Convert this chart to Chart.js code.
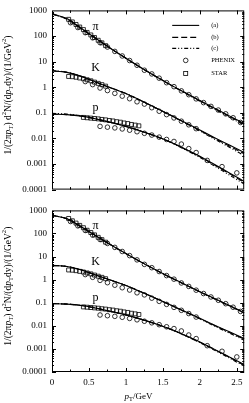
<!DOCTYPE html>
<html lang="en">
<head>
<meta charset="UTF-8">
<title>Identified hadron spectra</title>
<script src="https://cdn.jsdelivr.net/npm/chart.js@4.4.0/dist/chart.umd.min.js"></script>
<style>
  body { margin: 0; background: #fff; width: 249px; height: 403px; overflow: hidden; position: relative; }
  .box { position: absolute; left: 0; width: 249px; }
  #top { top: 0; height: 200px; }
  #bot { top: 200px; height: 203px; }
</style>
</head>
<body>
<div class="box" id="top"><canvas id="c1"></canvas></div>
<div class="box" id="bot"><canvas id="c2"></canvas></div>
<script>
// --- axis ticks
const xTicks = [0, 0.5, 1, 1.5, 2, 2.5];
const yTicks = [0.0001, 0.001, 0.01, 0.1, 1, 10, 100, 1000];

// --- model curves, sampled in pT (GeV)
const curveX = [0, 0.2, 0.4, 0.6, 0.8, 1.0, 1.2, 1.4, 1.6, 1.8, 2.0, 2.2, 2.4, 2.6];

// top panel
const piA1 = [741, 479, 195, 77.6, 31.6, 13.5, 5.89, 2.69, 1.26, 0.617, 0.302, 0.151, 0.0759, 0.038];
const piB1 = [729, 468, 191, 77.6, 31.6, 13.5, 5.89, 2.69, 1.26, 0.603, 0.295, 0.145, 0.0724, 0.0355];
const piC1 = [708, 457, 191, 77.6, 31.6, 13.5, 5.89, 2.63, 1.23, 0.589, 0.282, 0.138, 0.0676, 0.0331];
const kA1 = [4.37, 3.80, 2.63, 1.55, 0.933, 0.562, 0.302, 0.158, 0.0813, 0.0417, 0.0214, 0.0107, 0.0055, 0.00282];
const kB1 = [4.37, 3.80, 2.63, 1.55, 0.933, 0.562, 0.302, 0.158, 0.0813, 0.0407, 0.0204, 0.0100, 0.0050, 0.00251];
const kC1 = [4.47, 3.85, 2.63, 1.55, 0.933, 0.562, 0.302, 0.155, 0.0794, 0.0398, 0.0195, 0.0093, 0.0045, 0.00214];
const pA1 = [0.0891, 0.0851, 0.0741, 0.0575, 0.0417, 0.0295, 0.0195, 0.0123, 0.00724, 0.00389, 0.00200, 0.000955, 0.000447, 0.000209];
const pB1 = [0.0891, 0.0851, 0.0741, 0.0575, 0.0417, 0.0295, 0.0195, 0.0123, 0.00724, 0.00380, 0.00193, 0.00091, 0.00042, 0.000192];
const pC1 = [0.0955, 0.0891, 0.0759, 0.0575, 0.0417, 0.0295, 0.0195, 0.0121, 0.0071, 0.00365, 0.00180, 0.00083, 0.00037, 0.000165];

// bottom panel
const piA2 = [617, 440, 190, 77.0, 31.6, 13.5, 5.89, 2.69, 1.26, 0.617, 0.302, 0.151, 0.0759, 0.0372];
const piB2 = [617, 437, 189, 77.0, 31.6, 13.5, 5.89, 2.69, 1.25, 0.610, 0.298, 0.148, 0.0741, 0.0363];
const piC2 = [610, 432, 188, 77.0, 31.6, 13.5, 5.89, 2.66, 1.24, 0.600, 0.292, 0.144, 0.0716, 0.0350];
const kA2 = [4.17, 3.72, 2.60, 1.55, 0.933, 0.562, 0.302, 0.158, 0.0813, 0.0417, 0.0214, 0.0107, 0.0055, 0.00282];
const kB2 = [4.17, 3.72, 2.60, 1.55, 0.933, 0.562, 0.302, 0.158, 0.0805, 0.0410, 0.0208, 0.0103, 0.0052, 0.00263];
const kC2 = [4.20, 3.74, 2.60, 1.55, 0.933, 0.562, 0.302, 0.156, 0.0794, 0.0402, 0.0200, 0.0097, 0.0048, 0.00240];
const pA2 = [0.0912, 0.0870, 0.0755, 0.0580, 0.0417, 0.0295, 0.0195, 0.0123, 0.00724, 0.00389, 0.00200, 0.000955, 0.000447, 0.000209];
const pB2 = [0.0912, 0.0870, 0.0755, 0.0580, 0.0417, 0.0295, 0.0195, 0.0123, 0.00720, 0.00383, 0.00195, 0.00093, 0.00043, 0.000198];
const pC2 = [0.0933, 0.0880, 0.0759, 0.0580, 0.0417, 0.0295, 0.0195, 0.0122, 0.0071, 0.00372, 0.00187, 0.00087, 0.00040, 0.000180];

// --- PHENIX data (circles)
const piPhxX = [0.25, 0.35, 0.45, 0.55, 0.65, 0.75, 0.85, 0.95, 1.05, 1.15, 1.25, 1.35, 1.45, 1.55, 1.65, 1.75, 1.85, 1.95, 2.05, 2.15, 2.25, 2.35, 2.45, 2.55];
const piPhxY = [331, 214, 135, 85, 55, 37, 25, 16.6, 11.0, 7.2, 4.6, 3.3, 2.25, 1.5, 1.05, 0.72, 0.51, 0.35, 0.25, 0.178, 0.128, 0.091, 0.064, 0.042];
const kPhxX = [0.45, 0.55, 0.65, 0.75, 0.85, 0.95, 1.05, 1.15, 1.25, 1.35, 1.45, 1.55, 1.65, 1.75, 1.85, 1.95];
const kPhxY = [1.66, 1.26, 0.93, 0.74, 0.575, 0.447, 0.355, 0.269, 0.219, 0.158, 0.115, 0.085, 0.063, 0.047, 0.034, 0.024];
const pPhxX = [0.65, 0.75, 0.85, 0.95, 1.05, 1.15, 1.25, 1.35, 1.45, 1.55, 1.65, 1.75, 1.85, 1.95, 2.1, 2.3, 2.5];
const pPhxY = [0.0295, 0.0275, 0.0257, 0.0234, 0.0209, 0.0182, 0.0158, 0.0135, 0.0112, 0.0091, 0.0076, 0.0060, 0.0040, 0.0028, 0.00138, 0.00079, 0.00045];

// --- STAR data (squares)
const piStarX = [0.225, 0.275, 0.325, 0.375, 0.425, 0.475, 0.525, 0.575, 0.625, 0.675, 0.725];
const piStarY = [447, 355, 282, 224, 178, 138, 110, 87, 68, 54, 42];
const kStarX = [0.225, 0.275, 0.325, 0.375, 0.425, 0.475, 0.525, 0.575, 0.625, 0.675, 0.725];
const kStarY = [2.63, 2.57, 2.45, 2.29, 2.14, 1.95, 1.78, 1.58, 1.41, 1.26, 1.10];
const pStarX = [0.425, 0.475, 0.525, 0.575, 0.625, 0.675, 0.725, 0.775, 0.825, 0.875, 0.925, 0.975, 1.025, 1.075, 1.125, 1.175];
const pStarY = [0.066, 0.064, 0.062, 0.060, 0.058, 0.055, 0.053, 0.050, 0.048, 0.045, 0.043, 0.040, 0.038, 0.035, 0.033, 0.031];

// species tags, placed in data coordinates
const tagText = ['\u03c0', 'K', 'p'];
const tagX = [0.59, 0.59, 0.59];
const tagY = [220, 5.8, 0.16];

const legendText = ['(a)', '(b)', '(c)', 'PHENIX', 'STAR'];

const SERIF = '"Liberation Serif", "DejaVu Serif", serif';
const dashB = [6, 3];
const dashC = [4, 2, 1, 2, 1, 2];

function pairs(xs, ys) {
  return xs.map((x, i) => ({ x: x, y: ys[i] }));
}

function curve(ys, dash) {
  return {
    data: pairs(curveX, ys), showLine: true, borderColor: '#000', borderWidth: 1.1,
    borderDash: dash, pointRadius: 0, cubicInterpolationMode: 'monotone', fill: false
  };
}

function marks(xs, ys, style) {
  return {
    data: pairs(xs, ys), showLine: false, pointStyle: style,
    pointRadius: style === 'rect' ? 2.8 : 2.3, borderWidth: 0.8,
    pointBorderColor: '#000', pointBackgroundColor: 'rgba(0,0,0,0)'
  };
}

// draw a run of text with italic / sub / sup pieces, centred on (0,0)
function richText(ctx, parts, size) {
  const w = parts.map(p => {
    const fs = p.sub || p.sup ? size * 0.7 : size;
    ctx.font = (p.it ? 'italic ' : '') + fs + 'px ' + SERIF;
    return ctx.measureText(p.t).width;
  });
  let x = -w.reduce((a, b) => a + b, 0) / 2;
  parts.forEach((p, i) => {
    const fs = p.sub || p.sup ? size * 0.7 : size;
    ctx.font = (p.it ? 'italic ' : '') + fs + 'px ' + SERIF;
    const dy = p.sub ? size * 0.3 : p.sup ? -size * 0.4 : 0;
    ctx.fillText(p.t, x, dy);
    x += w[i];
  });
}

const yTitle = [
  { t: '1/(2\u03c0' }, { t: 'p', it: true }, { t: 'T', sub: true }, { t: ') d' }, { t: '2', sup: true },
  { t: 'N/(d' }, { t: 'p', it: true }, { t: 'T', sub: true }, { t: 'dy)/(1/GeV' }, { t: '2', sup: true }, { t: ')' }
];
const xTitle = [{ t: 'p', it: true }, { t: 'T', sub: true }, { t: '/GeV' }];

const deco = {
  id: 'deco',
  afterDatasetsDraw(chart, args, opts) {
    const { ctx, chartArea: a, scales: { x, y } } = chart;
    ctx.save();
    ctx.strokeStyle = '#000';
    ctx.fillStyle = '#000';
    ctx.lineWidth = 1;
    ctx.setLineDash([]);

    // frame
    ctx.strokeRect(a.left + 0.5, a.top + 0.5, a.width - 1, a.height - 1);

    // inward ticks on all four sides
    ctx.beginPath();
    for (let v = 0.25; v < 2.6; v += 0.25) {
      const px = Math.round(x.getPixelForValue(v)) + 0.5;
      const len = Math.abs(v * 2 - Math.round(v * 2)) < 1e-6 ? 4 : 2.5;
      ctx.moveTo(px, a.bottom); ctx.lineTo(px, a.bottom - len);
      ctx.moveTo(px, a.top); ctx.lineTo(px, a.top + len);
    }
    for (let e = -4; e < 3; e++) {
      for (let m = 1; m < 10; m++) {
        const py = Math.round(y.getPixelForValue(m * Math.pow(10, e))) + 0.5;
        const len = m === 1 ? 4 : 2;
        ctx.moveTo(a.left, py); ctx.lineTo(a.left + len, py);
        ctx.moveTo(a.right, py); ctx.lineTo(a.right - len, py);
      }
    }
    ctx.stroke();

    // species tags
    ctx.font = '12px ' + SERIF;
    ctx.textAlign = 'center';
    ctx.textBaseline = 'middle';
    tagText.forEach((t, i) => {
      ctx.fillText(t, x.getPixelForValue(tagX[i]), y.getPixelForValue(tagY[i]));
    });

    // y title
    ctx.save();
    ctx.translate(opts.yTitleX, (a.top + a.bottom) / 2 - 5);
    ctx.rotate(-Math.PI / 2);
    ctx.textAlign = 'left';
    ctx.textBaseline = 'middle';
    richText(ctx, yTitle, 9.5);
    ctx.restore();

    // x title
    if (opts.xTitle) {
      ctx.save();
      ctx.translate(a.left + a.width * 0.45, a.bottom + 25);
      ctx.textAlign = 'left';
      ctx.textBaseline = 'middle';
      richText(ctx, xTitle, 9);
      ctx.restore();
    }

    // legend
    if (opts.legend) {
      const x0 = a.right - 72, x1 = a.right - 45, xt = a.right - 33;
      const rows = [a.top + 15, a.top + 27, a.top + 38, a.top + 50, a.top + 63];
      const dashes = [[], dashB, dashC];
      ctx.lineWidth = 1.1;
      dashes.forEach((d, i) => {
        ctx.setLineDash(d);
        ctx.beginPath(); ctx.moveTo(x0, rows[i]); ctx.lineTo(x1, rows[i]); ctx.stroke();
      });
      ctx.setLineDash([]);
      ctx.lineWidth = 0.8;
      const xm = (x0 + x1) / 2;
      ctx.beginPath(); ctx.arc(xm, rows[3], 2.3, 0, Math.PI * 2); ctx.stroke();
      ctx.strokeRect(xm - 2, rows[4] - 2, 4, 4);
      ctx.font = '6.5px ' + SERIF;
      ctx.textAlign = 'left';
      ctx.textBaseline = 'middle';
      legendText.forEach((t, i) => ctx.fillText(t, xt, rows[i]));
    }
    ctx.restore();
  }
};

function makeChart(id, curves, opts) {
  const datasets = [];
  curves.forEach(c => {
    datasets.push(curve(c[2], dashC));
    datasets.push(curve(c[1], dashB));
    datasets.push(curve(c[0], []));
  });
  datasets.push(marks(piPhxX, piPhxY, 'circle'));
  datasets.push(marks(kPhxX, kPhxY, 'circle'));
  datasets.push(marks(pPhxX, pPhxY, 'circle'));
  datasets.push(marks(piStarX, piStarY, 'rect'));
  datasets.push(marks(kStarX, kStarY, 'rect'));
  datasets.push(marks(pStarX, pStarY, 'rect'));

  return new Chart(document.getElementById(id), {
    type: 'line',
    data: { datasets: datasets },
    options: {
      responsive: true,
      maintainAspectRatio: false,
      animation: false,
      events: [],
      layout: { padding: { left: 0, right: 3, top: 6, bottom: opts.xTitle ? 0 : 6 } },
      plugins: { legend: { display: false }, tooltip: { enabled: false }, deco: opts },
      scales: {
        x: {
          type: 'linear', min: 0, max: 2.6,
          afterBuildTicks: s => { s.ticks = xTicks.map(v => ({ value: v })); },
          afterFit: s => { s.height = opts.xTitle ? 31 : 0; },
          grid: { display: false, drawTicks: false },
          border: { display: false },
          ticks: {
            display: !!opts.xTitle, padding: 5, color: '#000', maxRotation: 0, autoSkip: false,
            font: { family: SERIF, size: 9 }, callback: v => String(v)
          }
        },
        y: {
          type: 'logarithmic', min: 0.0001, max: 1000,
          afterBuildTicks: s => { s.ticks = yTicks.map(v => ({ value: v })); },
          afterFit: s => { s.width = 52; },
          grid: { display: false, drawTicks: false },
          border: { display: false },
          ticks: {
            padding: 5, color: '#000', autoSkip: false,
            font: { family: SERIF, size: 9 }, callback: v => String(v)
          }
        }
      }
    },
    plugins: [deco]
  });
}

makeChart('c1', [[piA1, piB1, piC1], [kA1, kB1, kC1], [pA1, pB1, pC1]], { legend: true, xTitle: false, yTitleX: 8 });
makeChart('c2', [[piA2, piB2, piC2], [kA2, kB2, kC2], [pA2, pB2, pC2]], { legend: false, xTitle: true, yTitleX: 8 });
</script>
</body>
</html>
